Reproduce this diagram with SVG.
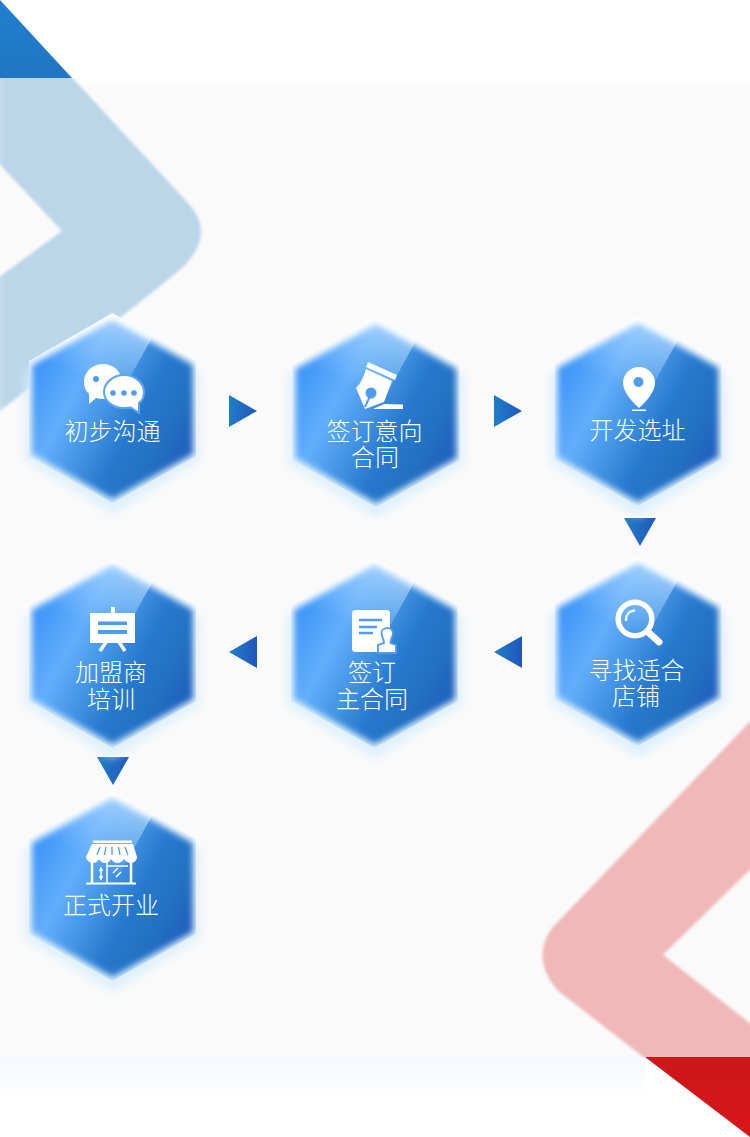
<svg xmlns="http://www.w3.org/2000/svg" xmlns:xlink="http://www.w3.org/1999/xlink" width="750" height="1137" viewBox="0 0 750 1137">
<style>
.t{font-family:"Noto Sans CJK SC","Noto Sans",sans-serif;font-size:24px;font-weight:300;fill:#fff;text-anchor:middle}
.w{fill:#fff}
.d{fill:#4f9ced}
.ds{stroke:#4f9ced;fill:none}
.arrow{fill:url(#ag)}
</style>
<defs>
<linearGradient id="ag" x1="0" y1="0" x2="1" y2="0"><stop offset="0" stop-color="#1f7fc8"/><stop offset="1" stop-color="#2056bc"/></linearGradient>
<linearGradient id="tri" x1="0" y1="0" x2="0" y2="1"><stop offset="0" stop-color="#1f80cf"/><stop offset="1" stop-color="#2176c2"/></linearGradient>
<linearGradient id="redtri" x1="0" y1="0" x2="0" y2="1"><stop offset="0" stop-color="#cc1719"/><stop offset="1" stop-color="#d8161b"/></linearGradient>
<linearGradient id="ptop" x1="0" y1="0" x2="0" y2="1"><stop offset="0" stop-color="#fff"/><stop offset="1" stop-color="#fafafa"/></linearGradient>
<linearGradient id="pleft" x1="0" y1="0" x2="1" y2="0"><stop offset="0" stop-color="#fff" stop-opacity=".15"/><stop offset="1" stop-color="#fff" stop-opacity="0"/></linearGradient>
<linearGradient id="pbot" x1="0" y1="0" x2="0" y2="1"><stop offset="0" stop-color="#f4f9ff"/><stop offset="1" stop-color="#fff"/></linearGradient>
<linearGradient id="hexout" x1="0" y1="0" x2="0" y2="1"><stop offset="0" stop-color="#fff"/><stop offset=".5" stop-color="#e8f4fd"/><stop offset="1" stop-color="#d8eefc"/></linearGradient>
<linearGradient id="hexfill" gradientUnits="userSpaceOnUse" x1="-84" y1="-30" x2="84" y2="60">
<stop offset="0" stop-color="#3d95f8"/><stop offset=".25" stop-color="#62aefb"/><stop offset=".42" stop-color="#4596e6"/><stop offset=".6" stop-color="#2779ce"/><stop offset=".78" stop-color="#2270c2"/><stop offset="1" stop-color="#1f58bb"/></linearGradient>
<linearGradient id="hexlight" gradientUnits="userSpaceOnUse" x1="25" y1="-85" x2="-12" y2="-18">
<stop offset="0" stop-color="#c4e2ff" stop-opacity=".72"/><stop offset=".6" stop-color="#9dd0ff" stop-opacity=".42"/><stop offset="1" stop-color="#9fd0ff" stop-opacity="0"/></linearGradient>
<filter id="b3" x="-20%" y="-20%" width="140%" height="140%"><feGaussianBlur stdDeviation="3"/></filter>
<filter id="b5" x="-20%" y="-20%" width="140%" height="140%"><feGaussianBlur stdDeviation="5"/></filter>
<filter id="b1" x="-10%" y="-10%" width="120%" height="120%"><feGaussianBlur stdDeviation="1.400"/></filter>
<filter id="b06" x="-10%" y="-10%" width="120%" height="120%"><feGaussianBlur stdDeviation="0.700"/></filter>
<clipPath id="topclip"><rect x="0" y="78" width="750" height="979"/></clipPath>
<clipPath id="hexclip"><polygon points="0,-95 83.5,-47 83.5,48 0,95 -83.5,48 -83.5,-47"/></clipPath>
<mask id="hexmask" maskUnits="userSpaceOnUse" x="-100" y="-110" width="200" height="220">
<polygon points="0,-88 80.5,-43 80.5,46 0,91 -80.5,46 -80.5,-43" fill="#fff" filter="url(#b3)"/>
</mask>
<g id="hex">
<polygon points="0,-84 88,-36 88,52 0,106 -88,52 -88,-36" fill="#d6edfc" opacity=".75" filter="url(#b5)"/>
<polygon points="0,-95 83.5,-47 83.5,48 0,95 -83.5,48 -83.5,-47" fill="url(#hexout)"/>
<g clip-path="url(#hexclip)">
<g mask="url(#hexmask)">
<rect x="-90" y="-100" width="180" height="200" fill="url(#hexfill)"/>
<polygon points="-90,-100 56,-100 -30,55 -90,30" fill="url(#hexlight)" filter="url(#b06)"/>
</g>
</g>
</g>
</defs>

<g id="background">
<rect width="750" height="1137" fill="#fff"/>
<rect x="0" y="78" width="750" height="979" fill="#fafafa"/>
<rect x="0" y="78" width="750" height="12" fill="url(#ptop)"/>
<rect x="0" y="1057" width="645" height="45" fill="url(#pbot)"/>
<g clip-path="url(#topclip)">
<path filter="url(#b1)" fill="#bcd6e9" d="M-12,60 L56,60 L188,203 Q216,233 184,266 Q165,284 -12,420 L-12,285 L62,231 L-12,152 Z"/>
<path filter="url(#b1)" fill="#f0b8b8" d="M765,706 L553,927 Q530,957 557,990 L660,1070 L765,1070 L765,1035 L663,955 L765,855 Z"/>
</g>
<rect x="0" y="78" width="5" height="979" fill="url(#pleft)"/>
<polygon points="0,0 72,78 0,78" fill="url(#tri)"/>
<polygon points="645,1057 750,1057 750,1137" fill="url(#redtri)"/>
</g>

<g id="connectors">
<polygon class="arrow" points="229,395 257,411 229,427"/>
<polygon class="arrow" points="494,395 522,411 494,427"/>
<polygon class="arrow" points="624,518 656,518 640,546"/>
<polygon class="arrow" points="257,636 229,652 257,668"/>
<polygon class="arrow" points="522,636 494,652 522,668"/>
<polygon class="arrow" points="97,757 129,757 113,785"/>
</g>

<g id="node-1">
<use href="#hex" xlink:href="#hex" x="112.500" y="408"/>
<path class="w" d="M103,364 C114,364 122,372 122,382 C122,392 113,399 103,399 C100,399 98,398.500 96,398 L89,404 L89,394 C85.500,391 84,387 84,382 C84,372 92,364 103,364 Z"/>
<path class="w" stroke="#5aa6f4" stroke-width="2" d="M124,375 C135,375 144,383 144,392 C144,397 142,401 139,403 L139,413 L131,407.500 C128,408 126,408 124,408 C113,408 104,401 104,392 C104,383 113,375 124,375 Z"/>
<circle class="d" cx="96" cy="379" r="3"/><circle class="d" cx="113" cy="393" r="2.800"/><circle class="d" cx="124" cy="393" r="2.800"/><circle class="d" cx="134" cy="393" r="2.800"/>
<text class="t" x="112.500" y="440">初步沟通</text>
</g>

<g id="node-2">
<use href="#hex" xlink:href="#hex" x="376" y="412"/>
<path class="w" d="M368,362 L397,375 L395,380 L366,367 Z"/>
<path class="w" d="M366,369 L392,381 L384,402 L365,409 L356,388 C361,383 364,376 366,369 Z"/>
<circle class="d" cx="371" cy="393" r="5.500"/>
<path class="ds" stroke-width="2" d="M370,396 L365,407"/>
<path class="w" d="M373,409 L384,404 L403,404.500 L403,409 Z"/>
<text class="t" x="374.500" y="440">签订意向</text>
<text class="t" x="375" y="466">合同</text>
</g>

<g id="node-3">
<use href="#hex" xlink:href="#hex" x="638" y="411"/>
<path class="w" d="M639,367 C648,367 655,374 655,383 C655,392 645,403 639,408 C633,403 623,392 623,383 C623,374 630,367 639,367 Z"/>
<circle class="d" cx="638.500" cy="382" r="5"/>
<rect class="w" x="632" y="409.500" width="14" height="1.500"/>
<text class="t" x="637.500" y="439">开发选址</text>
</g>

<g id="node-4">
<use href="#hex" xlink:href="#hex" x="638" y="651"/>
<circle cx="635" cy="619" r="16.800" fill="none" stroke="#fff" stroke-width="5.500"/>
<path d="M648,632 L659,642" stroke="#fff" stroke-width="7" stroke-linecap="round" fill="none"/>
<path d="M626,620 C626,614 630,611 634,610.500" stroke="#fff" stroke-width="2.500" stroke-linecap="round" fill="none" opacity=".9"/>
<text class="t" x="636.500" y="679">寻找适合</text>
<text class="t" x="636" y="705">店铺</text>
</g>

<g id="node-5">
<use href="#hex" xlink:href="#hex" x="374.500" y="653"/>
<rect class="w" x="352" y="610" width="38" height="42" rx="3.500"/>
<path class="ds" stroke-width="2.500" d="M359,620 L382,620 M359,627 L377,627 M359,633 L373,633"/>
<path class="w" stroke="#4f9ced" stroke-width="1.800" d="M381.500,633 C381.500,626.500 393,626.500 393,633 C393,637 390.500,638 390.500,643 L396,645 L396,653 L378,653 L378,645 L384,643 C384,638 381.500,637 381.500,633 Z"/>
<text class="t" x="372" y="681">签订</text>
<text class="t" x="372" y="708">主合同</text>
</g>

<g id="node-6">
<use href="#hex" xlink:href="#hex" x="112.500" y="653"/>
<rect class="w" x="111" y="607" width="4" height="7"/>
<rect class="w" x="90" y="613" width="45" height="30"/>
<path stroke="#fff" stroke-width="3.500" fill="none" d="M106,642 L100,651 M119,642 L125,651"/>
<rect class="d" x="98" y="621.500" width="29" height="3.500"/>
<rect class="d" x="98" y="630" width="29" height="4"/>
<text class="t" x="111" y="681">加盟商</text>
<text class="t" x="111" y="708">培训</text>
</g>

<g id="node-7">
<use href="#hex" xlink:href="#hex" x="112.500" y="886"/>
<rect class="w" x="93" y="840.500" width="39" height="2.500"/>
<path class="w" d="M92,844 L133,844 L137,857 C137,860 134,863 131,863 C128,863 125,861 124,859 C123,861 120,863 117.500,863 C115,863 112,861 111,859 C110,861 108,863 105,863 C102,863 100,861 99,859 C98,861 96,863 93,863 C90,863 86,860 86,857 Z"/>
<path class="ds" stroke-width="1.300" d="M100,847 L97,855 M106,847 L104.500,855 M112,847 L112,855 M118.500,847 L120,855 M125,847 L128,855"/>
<path fill="none" stroke="#fff" stroke-width="2.500" d="M92,862 L92,883 M131,862 L131,883"/>
<path fill="none" stroke="#fff" stroke-width="1.500" d="M107,861 L107,883 M128,866 L107,866 M101,869 L101,878 M99.500,871 L101,868 L102.500,871 M99.500,876 L101,879 L102.500,876 M113,873 L118,868 M116,877 L121,872"/>
<rect class="w" x="86" y="882.500" width="50" height="2"/>
<text class="t" x="111" y="914">正式开业</text>
</g>
</svg>
